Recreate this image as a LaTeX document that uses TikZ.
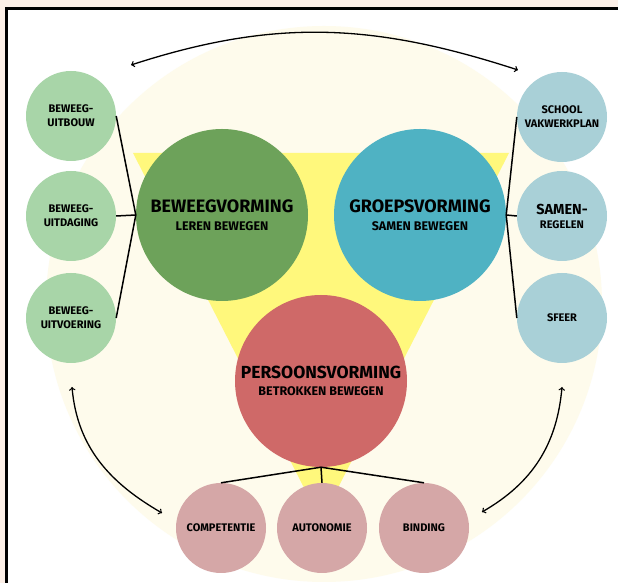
\documentclass[tikz,border=0pt]{standalone}
\usepackage{fontspec}
\setmainfont{Fira Sans}
\usepackage{tikz}
\usetikzlibrary{arrows}

\definecolor{peach}{HTML}{FCEFE7}
\definecolor{cream}{HTML}{FEFBEC}
\definecolor{geel}{HTML}{FFF87C}
\definecolor{groen}{HTML}{6DA25A}
\definecolor{blauw}{HTML}{4FB2C3}
\definecolor{rood}{HTML}{CF6968}
\definecolor{lichtgroen}{HTML}{A8D5A8}
\definecolor{lichtblauw}{HTML}{A9D0D7}
\definecolor{roze}{HTML}{D5A7A7}

\begin{document}
\begin{tikzpicture}
        [
            x=1pt, y=1pt,
            hoofd/.style={circle, minimum size=172pt, inner sep=0pt, align=center},
            klein/.style={circle, minimum size=90pt, inner sep=0pt, align=center,
                font=\fontsize{11}{14}\selectfont\bfseries},
            lijn/.style={line width=1.5pt},
            pijl/.style={line width=1.3pt, <->, >=to},
        ]
        \useasboundingbox (0,0) rectangle (618,583);
        \fill[peach] (0,0) rectangle (618,583);
        \fill[white] (6.5,0) rectangle (618,574.5);
        \draw[line width=3pt] (6.5,0) -- (6.5,574.5) -- (618,574.5);

        % achtergrond
        \fill[cream] (324,279) circle (278);
        \fill[geel] (133,430) -- (509,430) -- (321,62) -- cycle;

        % drie vormingen
        \node[hoofd, fill=groen] (bv) at (222,368)
            {{\fontsize{18}{18}\selectfont\bfseries BEWEEGVORMING}\\[5.5pt]
             {\fontsize{12.5}{14}\selectfont\bfseries LEREN BEWEGEN}};
        \node[hoofd, fill=blauw] (gv) at (420,368)
            {{\fontsize{18}{18}\selectfont\bfseries GROEPSVORMING}\\[5.5pt]
             {\fontsize{12.5}{14}\selectfont\bfseries SAMEN BEWEGEN}};
        \node[hoofd, fill=rood] (pv) at (321,202)
            {{\fontsize{17.5}{18}\selectfont\bfseries PERSOONSVORMING}\\[5.5pt]
             {\fontsize{12.5}{14}\selectfont\bfseries BETROKKEN BEWEGEN}};

        % links
        \node[klein, fill=lichtgroen] (uitbouw) at (71,467) {BEWEEG-\\UITBOUW};
        \node[klein, fill=lichtgroen] (uitdaging) at (71,367) {BEWEEG-\\UITDAGING};
        \node[klein, fill=lichtgroen] (uitvoering) at (71,265) {BEWEEG-\\UITVOERING};

        % rechts
        \node[klein, fill=lichtblauw] (vakwerkplan) at (562,466) {SCHOOL\\VAKWERKPLAN};
        \node[klein, fill=lichtblauw] (regelen) at (562,367)
            {{\fontsize{14.5}{15}\selectfont SAMEN-}\\REGELEN};
        \node[klein, fill=lichtblauw] (sfeer) at (562,265) {SFEER};

        % onder
        \node[klein, fill=roze] (competentie) at (221,55) {COMPETENTIE};
        \node[klein, fill=roze] (autonomie) at (322,55) {AUTONOMIE};
        \node[klein, fill=roze] (binding) at (424,55) {BINDING};

        \foreach \n in {uitbouw, uitdaging, uitvoering}
            \draw[lijn] (\n.east) -- (bv.west);
        \foreach \n in {vakwerkplan, regelen, sfeer}
            \draw[lijn] (\n.west) -- (gv.east);
        \foreach \n in {competentie, autonomie, binding}
            \draw[lijn] (\n.north) -- (pv.south);

        % pijlen
        \coordinate (boven links) at (131,518);
        \coordinate (boven rechts) at (518,513);
        \coordinate (links boven) at (72,196);
        \coordinate (links onder) at (162,70);
        \coordinate (rechts boven) at (562,196);
        \coordinate (rechts onder) at (482,71);
        \draw[pijl] (boven links) to[out=18, in=162] (boven rechts);
        \draw[pijl] (links boven) to[out=-85, in=150] (links onder);
        \draw[pijl] (rechts boven) to[out=-95, in=30] (rechts onder);
\end{tikzpicture}
\end{document}
